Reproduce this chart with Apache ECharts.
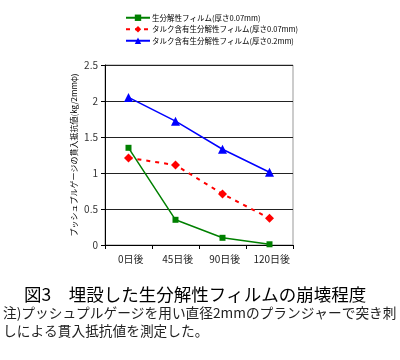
<!DOCTYPE html>
<html><head><meta charset="utf-8">
<script src="https://cdn.jsdelivr.net/npm/echarts@6/dist/echarts.min.js"></script>
<style>html,body{margin:0;padding:0;background:#fff}#c{width:400px;height:360px}</style>
</head><body><div id="c"></div>
<script>
const categories = ['0日後', '45日後', '90日後', '120日後'];
const seriesNames = ['生分解性フィルム(厚さ0.07mm)', 'タルク含有生分解性フィルム(厚さ0.07mm)', 'タルク含有生分解性フィルム(厚さ0.2mm)'];
const greenValues = [1.35, 0.35, 0.10, 0.01];
const redValues = [1.21, 1.11, 0.71, 0.37];
const blueValues = [2.05, 1.72, 1.33, 1.01];
const yTicks = [0, 0.5, 1, 1.5, 2, 2.5];
const yAxisName = 'プッシュプルゲージの貫入抵抗値(kg/2mmφ)';
const titleText = '図3　埋設した生分解性フィルムの崩壊程度';
const noteLines = ['注)プッシュプルゲージを用い直径2mmのプランジャーで突き刺', 'しによる貫入抵抗値を測定した。'];

const FONT = '"Noto Sans CJK JP", sans-serif';
const chart = echarts.init(document.getElementById('c'));
chart.setOption({
  animation: false,
  textStyle: { fontFamily: FONT },
  legend: {
    orient: 'vertical', left: 120, top: 9, itemGap: 4, itemWidth: 24, itemHeight: 8,
    textStyle: { fontSize: 7.5, color: '#000', fontFamily: FONT, padding: [0, 0, 0, -3] },
    data: seriesNames
  },
  grid: { left: 105, right: 107, top: 65, bottom: 115 },
  xAxis: {
    type: 'category', data: categories, boundaryGap: true,
    axisLine: { lineStyle: { color: '#000', width: 1 } },
    axisTick: { show: true, length: 4, lineStyle: { color: '#000' } },
    axisLabel: { interval: 0, fontSize: 10, color: '#222', margin: 9, fontFamily: FONT,
      formatter: function (v) { return '  ' + v; } }
  },
  yAxis: {
    type: 'value', min: yTicks[0], max: yTicks[yTicks.length - 1], interval: 0.5,
    name: yAxisName, nameLocation: 'middle', nameGap: 27, nameRotate: 90,
    nameTextStyle: { fontSize: 8, color: '#000', fontFamily: FONT },
    axisLine: { show: true, lineStyle: { color: '#000', width: 1 } },
    axisTick: { show: true, length: 4, lineStyle: { color: '#000' } },
    axisLabel: { fontSize: 10, color: '#333', margin: 7, fontFamily: FONT },
    splitLine: { show: true, lineStyle: { color: '#222', width: 1 } }
  },
  series: [
    { name: seriesNames[0], type: 'line', data: greenValues, symbol: 'rect', symbolSize: 6,
      itemStyle: { color: '#008000' }, lineStyle: { color: '#008000', width: 1.5 } },
    { name: seriesNames[1], type: 'line', data: redValues, symbol: 'diamond', symbolSize: 9,
      itemStyle: { color: '#ff0000' }, lineStyle: { color: '#ff0000', width: 2, type: [4, 5] } },
    { name: seriesNames[2], type: 'line', data: blueValues, symbol: 'triangle', symbolSize: 9,
      itemStyle: { color: '#0000ff' }, lineStyle: { color: '#0000ff', width: 1.5 } }
  ],
  graphic: [
    { type: 'rect', shape: { x: 105, y: 65, width: 188, height: 180 }, silent: true, z: -1,
      style: { fill: 'none', stroke: '#999', lineWidth: 1 } },
    { type: 'text', left: 24, top: 286, style: { text: titleText, fontSize: 17.5, fill: '#000', fontFamily: FONT } },
    { type: 'text', left: 3, top: 306, style: { text: noteLines[0], fontSize: 13.7, fill: '#222', fontFamily: FONT } },
    { type: 'text', left: 3, top: 324, style: { text: noteLines[1], fontSize: 13.7, fill: '#222', fontFamily: FONT } }
  ]
});
</script></body></html>
